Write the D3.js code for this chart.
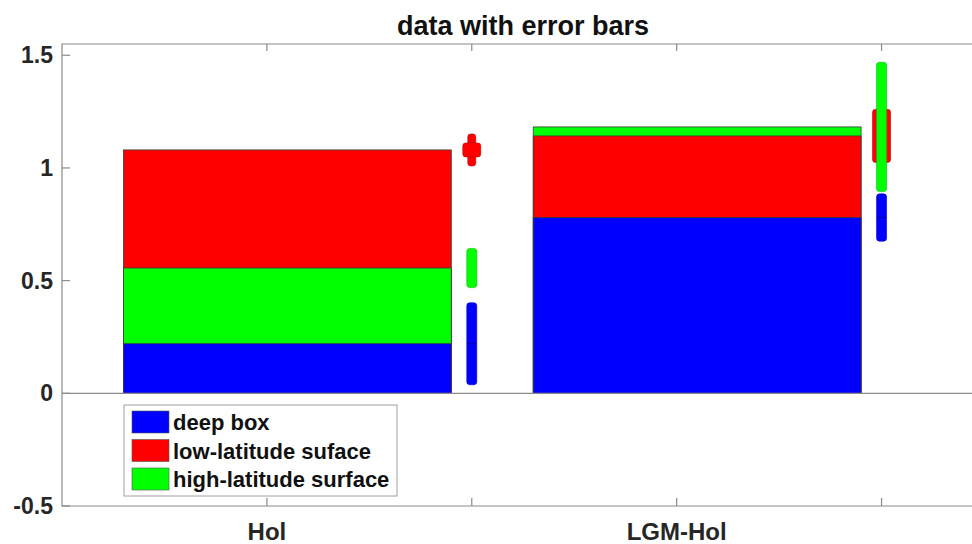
<!DOCTYPE html>
<html>
<head>
<meta charset="utf-8">
<script src="https://cdn.jsdelivr.net/npm/d3@7"></script>
<style>
  body { margin: 0; background: #fff; }
  svg { font-family: "Liberation Sans", Arial, sans-serif; font-weight: bold; }
  .axis_line { stroke: #8a8a8a; stroke-width: 1.2; fill: none; }
  .tick_label { font-size: 23px; fill: #262626; }
  .x_label { font-size: 24px; fill: #262626; }
  .title { font-size: 27px; fill: #111; }
  .tag { font-size: 22px; fill: #111; }
</style>
</head>
<body>
<div class="chart"></div>
<script>
// data
var categories = ["Hol", "LGM-Hol"]
var seriesNames = ["deep box", "low-latitude suface", "high-latitude surface"]
var seriesColors = ["#0000ff", "#ff0000", "#00ff00"]
// bar heights measured from zero (bars overlap, taller drawn first)
var deep = [0.22, 0.78]
var lowLat = [1.08, 1.142]
var highLat = [0.556, 1.182]
// error half-ranges (narrow part and wide part)
var deepErr = [0.182, 0.105]
var lowErrOuter = [0.071, 0.118]
var lowErrInner = [0.031, 0.118]
var highErr = [0.087, 0.287]
var yTicks = [-0.5, 0, 0.5, 1, 1.5]
var xTicks = [1, 1.5, 2, 2.5]
var xTickLabels = ["Hol", "", "LGM-Hol", ""]

let svg = d3.select('div.chart').append('svg').attr("width", 972).attr("height", 544)

//Scale
let x = d3.scaleLinear().domain([0.5, 2.75]).range([62, 984])
let y = d3.scaleLinear().domain([-0.5, 1.55]).range([506, 44])

var barOffset = 0.05
var barWidth = 0.8
var errOffset = 0.5

//Bars
var bars = []
categories.forEach((c, i) => {
  var items = [
    {v: deep[i], color: seriesColors[0]},
    {v: lowLat[i], color: seriesColors[1]},
    {v: highLat[i], color: seriesColors[2]}
  ]
  items.sort((a, b) => b.v - a.v)
  items.forEach(d => bars.push({i: i, v: d.v, color: d.color}))
})

svg.append('g')
  .selectAll('rect')
  .data(bars)
  .enter()
  .append('rect')
  .attr('x', d => x(d.i + 1 + barOffset - barWidth / 2))
  .attr('width', d => x(d.i + 1 + barOffset + barWidth / 2) - x(d.i + 1 + barOffset - barWidth / 2))
  .attr('y', d => y(d.v))
  .attr('height', d => y(0) - y(d.v))
  .attr('fill', d => d.color)
  .attr('stroke', '#3a3a3a')
  .attr('stroke-width', 0.8)

//Error bars
var errs = []
categories.forEach((c, i) => {
  errs.push({i: i, c: lowLat[i], e: lowErrOuter[i], w: 8, color: seriesColors[1], edge: '#b00000'})
  errs.push({i: i, c: lowLat[i], e: lowErrInner[i], w: 18, color: seriesColors[1], edge: '#b00000'})
  errs.push({i: i, c: highLat[i], e: highErr[i], w: 10, color: seriesColors[2], edge: '#00c000'})
  errs.push({i: i, c: deep[i], e: deepErr[i], w: 10, color: seriesColors[0], edge: '#0000b0'})
})

svg.append('g')
  .selectAll('rect')
  .data(errs)
  .enter()
  .append('rect')
  .attr('x', d => x(d.i + 1 + errOffset) - d.w / 2)
  .attr('width', d => d.w)
  .attr('y', d => y(d.c + d.e))
  .attr('height', d => y(d.c - d.e) - y(d.c + d.e))
  .attr('rx', 3)
  .attr('fill', d => d.color)
  .attr('stroke', d => d.edge)
  .attr('stroke-width', 0.6)

//center marks (deep box)
svg.append('g')
  .selectAll('line')
  .data(errs.filter(d => d.color == seriesColors[0]))
  .enter()
  .append('line')
  .attr('x1', d => x(d.i + 1 + errOffset) - d.w / 2)
  .attr('x2', d => x(d.i + 1 + errOffset) + d.w / 2)
  .attr('y1', d => y(d.c))
  .attr('y2', d => y(d.c))
  .attr('stroke', 'rgba(0,0,0,0.35)')
  .attr('stroke-width', 1)

//Axis box
var x0 = x.range()[0], x1 = x.range()[1]
var yTop = y(y.domain()[1]), yBot = y(y.domain()[0])
svg.append('path').attr('class', 'axis_line')
  .attr('d', 'M' + x1 + ',' + yTop + 'H' + x0 + 'V' + yBot + 'H' + x1)

// baseline
svg.append('line').attr('class', 'axis_line')
  .attr('x1', x0).attr('x2', x1).attr('y1', y(0)).attr('y2', y(0))

//Axis_y
svg.append('g')
  .selectAll('line')
  .data(yTicks)
  .enter()
  .append('line')
  .attr('class', 'axis_line')
  .attr('x1', x0).attr('x2', x0 + 8)
  .attr('y1', d => y(d)).attr('y2', d => y(d))

svg.append('g')
  .selectAll('text')
  .data(yTicks)
  .enter()
  .append('text')
  .attr('class', 'tick_label')
  .attr('text-anchor', 'end')
  .attr('x', x0 - 9)
  .attr('y', d => y(d) + 8)
  .text(d => String(d))

//Axis_x
svg.append('g')
  .selectAll('line')
  .data(xTicks)
  .enter()
  .append('line')
  .attr('class', 'axis_line')
  .attr('x1', d => x(d)).attr('x2', d => x(d))
  .attr('y1', yBot).attr('y2', yBot - 8)

svg.append('g')
  .selectAll('line')
  .data(xTicks)
  .enter()
  .append('line')
  .attr('class', 'axis_line')
  .attr('x1', d => x(d)).attr('x2', d => x(d))
  .attr('y1', yTop).attr('y2', yTop + 7)

svg.append('g')
  .selectAll('text')
  .data(xTicks)
  .enter()
  .append('text')
  .attr('class', 'x_label')
  .attr('text-anchor', 'middle')
  .attr('x', d => x(d))
  .attr('y', 540)
  .text((d, i) => xTickLabels[i])

//title
svg.append('text')
  .attr('class', 'title')
  .attr('text-anchor', 'middle')
  .attr('x', (x0 + x1) / 2)
  .attr('y', 35)
  .text('data with error bars')

//legend
var legend = svg.append('g').attr('transform', 'translate(124,405)')
legend.append('rect')
  .attr('width', 273).attr('height', 91)
  .attr('fill', '#fff').attr('stroke', '#a0a0a0').attr('stroke-width', 1)

legend.selectAll('rect.sw')
  .data(seriesNames)
  .enter()
  .append('rect')
  .attr('class', 'sw')
  .attr('x', 8).attr('y', (d, i) => 6 + i * 28.5)
  .attr('width', 37).attr('height', 22)
  .attr('fill', (d, i) => seriesColors[i])
  .attr('stroke', '#555').attr('stroke-width', 0.6)

legend.selectAll('text')
  .data(seriesNames)
  .enter()
  .append('text')
  .attr('class', 'tag')
  .attr('x', 49).attr('y', (d, i) => 25 + i * 28.5)
  .text(d => d)
</script>
</body>
</html>
